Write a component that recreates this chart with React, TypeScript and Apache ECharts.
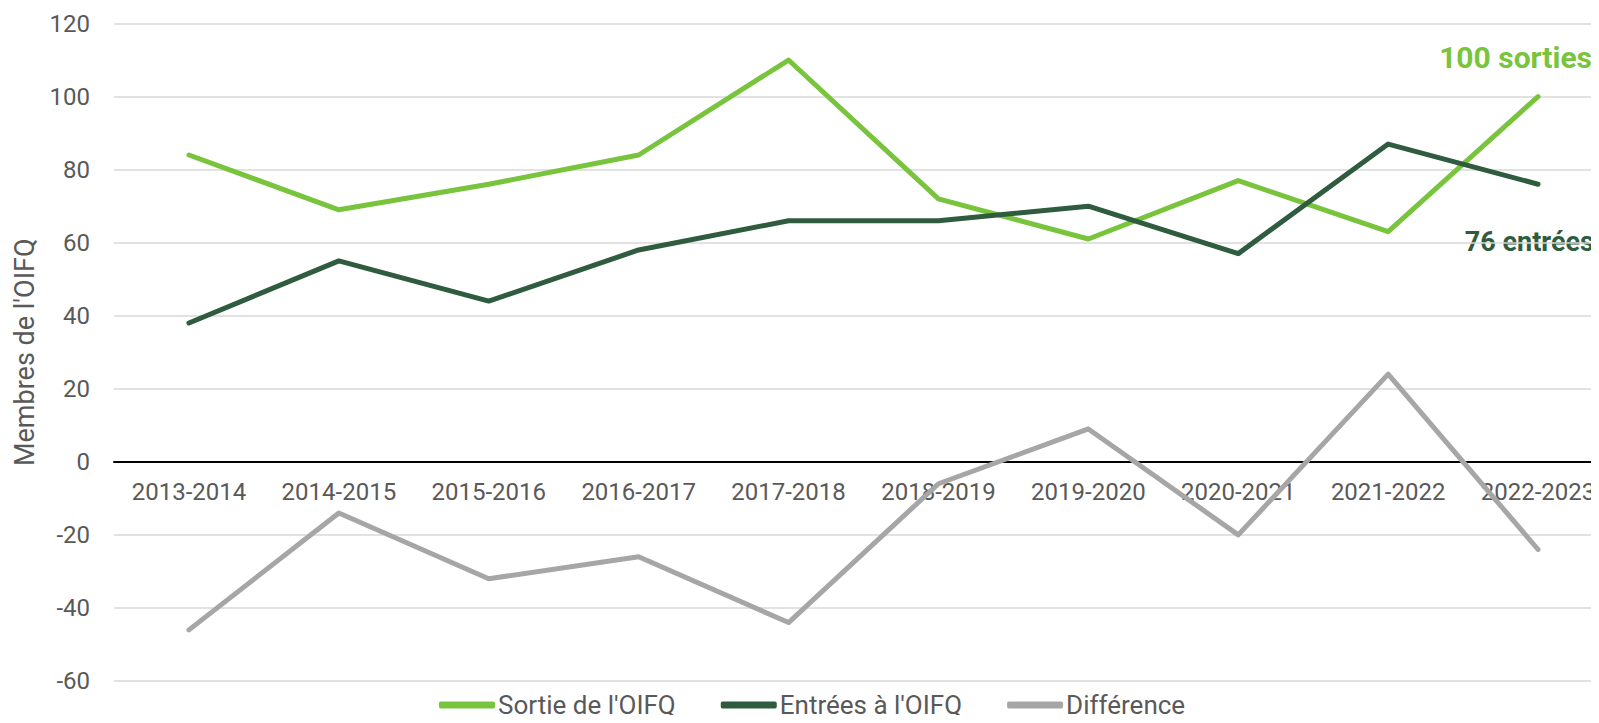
import React, { useEffect, useRef } from "react";
import * as echarts from "echarts";

const categories = ["2013-2014", "2014-2015", "2015-2016", "2016-2017", "2017-2018", "2018-2019", "2019-2020", "2020-2021", "2021-2022", "2022-2023"];
const sorties = [84, 69, 76, 84, 110, 72, 61, 77, 63, 100];
const entrees = [38, 55, 44, 58, 66, 66, 70, 57, 87, 76];
const difference = [-46, -14, -32, -26, -44, -6, 9, -20, 24, -24];
const seriesNames = ["Sortie de l'OIFQ", "Entrées à l'OIFQ", "Différence"];
const annotationSorties = "100 sorties";
const annotationEntrees = "76 entrées";

const LIGHT = "#78c43c";
const DARK = "#2f5b3f";
const GRAY = "#a6a6a6";
const TEXT = "#595959";
const FONT = "Roboto, 'Noto Sans', sans-serif";

const Y_MIN = -60;
const Y_MAX = 120;
const GRID_TOP = 23.5;
const GRID_BOTTOM = 42;
const H = 723;

export default function App() {
  const ref = useRef<HTMLDivElement>(null);
  useEffect(() => {
    if (!ref.current) return;
    const chart = echarts.init(ref.current, undefined, { renderer: "svg" });
    const plotH = H - GRID_TOP - GRID_BOTTOM;
    const zeroOffset = -(plotH * (0 - Y_MIN)) / (Y_MAX - Y_MIN);
    const lineSeries = (name: string, data: number[], color: string) => ({
      name,
      type: "line",
      data,
      symbol: "none",
      lineStyle: { color, width: 5, cap: "round", join: "round" },
      itemStyle: { color },
    });
    chart.setOption({
      animation: false,
      textStyle: { fontFamily: FONT },
      grid: { left: 114, right: 0, top: GRID_TOP, bottom: GRID_BOTTOM, containLabel: false },
      xAxis: {
        type: "category",
        data: categories,
        boundaryGap: true,
        position: "bottom",
        offset: zeroOffset,
        axisLine: { onZero: false, lineStyle: { color: "#000", width: 2 } },
        axisTick: { show: false },
        axisLabel: { color: TEXT, fontSize: 24, margin: 18, interval: 0, fontFamily: FONT },
      },
      yAxis: {
        type: "value",
        min: Y_MIN,
        max: Y_MAX,
        interval: 20,
        name: "Membres de l'OIFQ",
        nameLocation: "middle",
        nameGap: 76,
        nameTextStyle: { color: TEXT, fontSize: 27, fontFamily: FONT },
        axisLine: { show: false },
        axisTick: { show: false },
        axisLabel: { color: TEXT, fontSize: 24, margin: 24, fontFamily: FONT },
        splitLine: { lineStyle: { color: "#d9d9d9", width: 1.5 } },
      },
      legend: {
        bottom: 0,
        left: 434,
        itemWidth: 56,
        itemHeight: 7,
        itemGap: 45,
        icon: "roundRect",
        textStyle: { color: TEXT, fontSize: 26, fontFamily: FONT, padding: [0, 0, 0, -2] },
        data: seriesNames,
      },
      series: [
        lineSeries(seriesNames[0], sorties, LIGHT),
        lineSeries(seriesNames[1], entrees, DARK),
        lineSeries(seriesNames[2], difference, GRAY),
      ],
      graphic: [
        {
          type: "text",
          x: 1592,
          y: 57,
          style: { text: annotationSorties, fill: LIGHT, font: `bold 30px ${FONT}`, align: "right", verticalAlign: "middle" },
        },
        {
          type: "text",
          x: 1594,
          y: 242,
          style: { text: annotationEntrees, fill: DARK, font: `bold 27px ${FONT}`, align: "right", verticalAlign: "middle" },
        },
      ],
    });
    return () => chart.dispose();
  }, []);
  return (
    <div style={{ width: 1599, height: 723, margin: -8, overflow: "hidden" }}>
      <div ref={ref} style={{ width: 1613, height: 723 }} />
    </div>
  );
}
